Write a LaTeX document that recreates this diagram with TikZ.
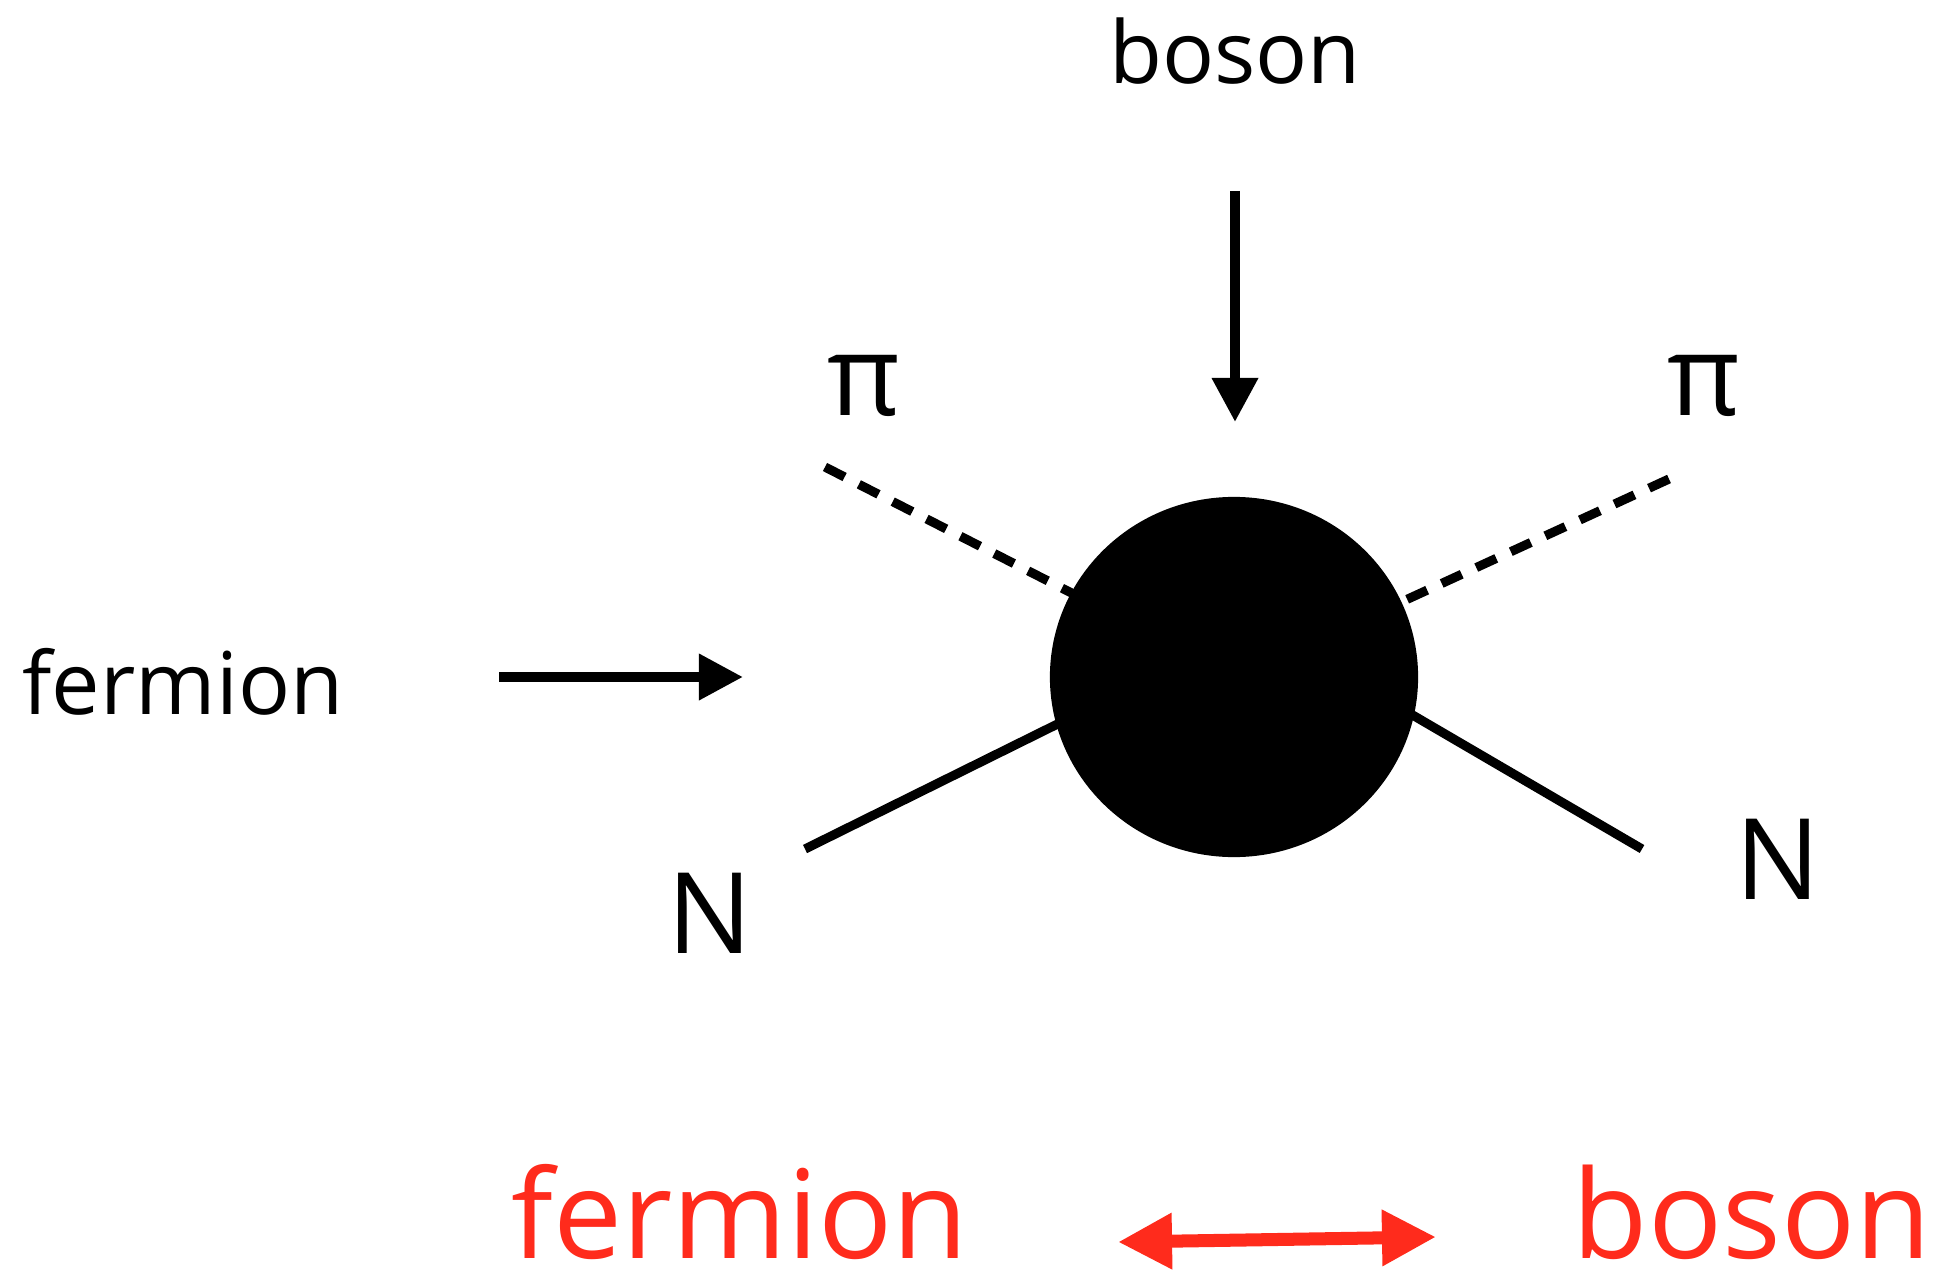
\documentclass[tikz,border=0pt]{standalone}
\usepackage{fontspec}
\setmainfont{Open Sans}
\usetikzlibrary{arrows.meta,shapes.geometric}
\definecolor{ink}{HTML}{000000}
\definecolor{hot}{HTML}{FF2B1C}
\begin{document}
\begin{tikzpicture}[x=0.01cm,y=-0.01cm,>={Triangle[length=4.4mm,width=4.4mm]},line width=2.8pt,
  lbl/.style={anchor=base,font=\fontsize{24.6}{28}\selectfont},
  sym/.style={anchor=base,font=\fontsize{32}{36}\selectfont},
  hotlbl/.style={anchor=base,inner sep=0pt,text=hot,font=\fontsize{35}{40}\selectfont},
  pion/.style={line width=2.6pt,dash pattern=on 2.2mm off 1.6mm}]
\useasboundingbox (0,0) rectangle (1936,1288);
\node[lbl] (btop) at (1235,84) {boson};
\node[lbl] (fleft) at (183,714) {fermion};
\node[sym] (pil) at (864,415) {π};
\node[sym] (pir) at (1704,415) {π};
\node[sym] (nl) at (710,953) {N};
\node[sym] (nr) at (1778,899) {N};
\node[hotlbl] (fbot) at (740,1258) {fermion};
\node[hotlbl] (bbot) at (1752,1258) {boson};
\coordinate (b0) at (1235,191);\coordinate (b1) at (1235,422);
\coordinate (f0) at (499,677);\coordinate (f1) at (743,677);
\coordinate (pl0) at (825,467);\coordinate (pl1) at (1140,628);
\coordinate (pr0) at (1669,479);\coordinate (pr1) at (1360,621);
\coordinate (nl0) at (805,849);\coordinate (nl1) at (1100,703);
\coordinate (nr0) at (1642,849);\coordinate (nr1) at (1380,696);
\coordinate (h0) at (1118,1242);\coordinate (h1) at (1436,1237);
\draw[pion] (pl0)--(pl1);\draw[pion] (pr0)--(pr1);
\draw[line width=2.6pt] (nl0)--(nl1);\draw[line width=2.6pt] (nr0)--(nr1);
\node[ellipse,fill=ink,inner sep=0pt,minimum width=3.68cm,minimum height=3.6cm] (blob) at (1234,677) {};
\draw[->] (b0)--(b1);\draw[->] (f0)--(f1);
\draw[hot,line width=3.7pt,{Triangle[length=5.4mm,width=5.3mm]}-{Triangle[length=5.4mm,width=5.3mm]}] (h0)--(h1);
\end{tikzpicture}
\end{document}
